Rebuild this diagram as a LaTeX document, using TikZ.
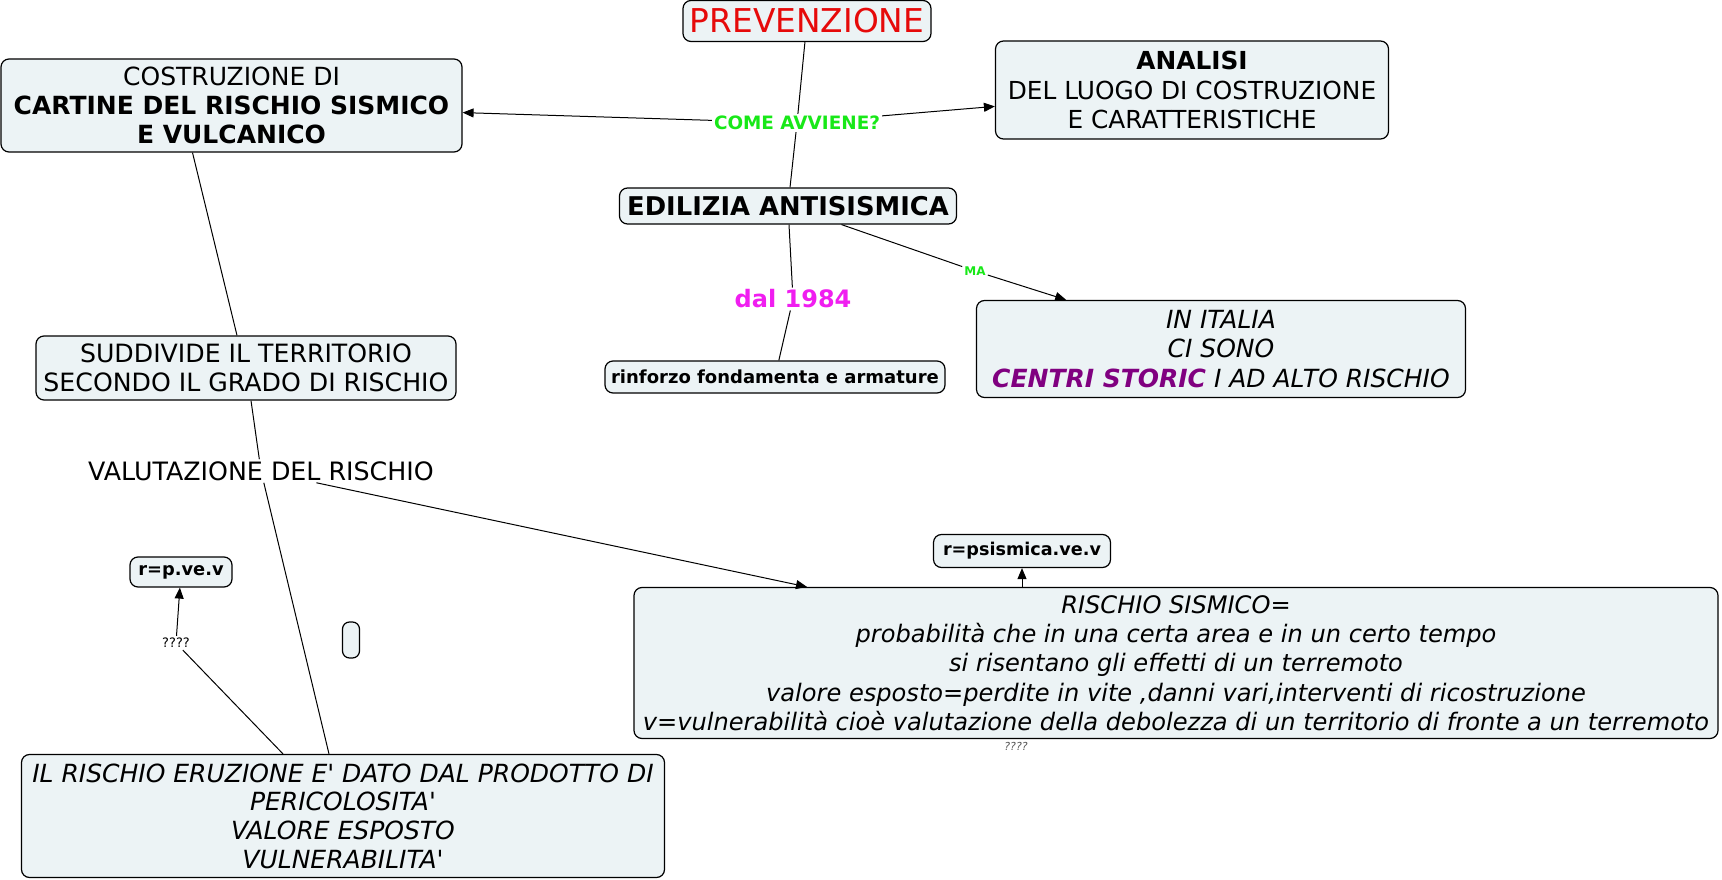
\documentclass[tikz,border=0pt]{standalone}
\usepackage{fontspec}
\setmainfont{DejaVu Sans}
\newfontfamily\mainf{DejaVu Sans}
\usetikzlibrary{arrows.meta}
\definecolor{boxfill}{RGB}{236,243,245}
\definecolor{lgreen}{RGB}{24,232,24}
\definecolor{mag}{RGB}{240,30,240}
\definecolor{purp}{RGB}{128,0,128}
\definecolor{pred}{RGB}{230,10,10}
\newcommand{\fsz}[2]{\fontsize{#1}{#2}\selectfont}
\tikzset{
  box/.style={draw=black, line width=1.2pt, fill=boxfill, rounded corners=8pt, align=center, inner sep=0pt},
  lbl/.style={align=center, inner sep=2pt},
  arr/.style={-{Triangle[length=11pt,width=9pt]}},
  conn/.style={line width=1pt},
}
\begin{document}
\begin{tikzpicture}[x=1pt,y=-1pt]
\mainf
\useasboundingbox (0,0) rectangle (1722,880);
% boxes
\node[box, minimum width=248pt, minimum height=41pt, font=\mainf\fsz{32.8}{38}, text=pred] (prev) at (807,21) {PREVENZIONE};
\node[box, minimum width=393pt, minimum height=98pt, font=\mainf\fsz{24.8}{29.5}] (analisi) at (1192,90) {\textbf{ANALISI}\\DEL LUOGO DI COSTRUZIONE\\E CARATTERISTICHE};
\node[box, minimum width=461pt, minimum height=93pt, font=\mainf\fsz{25}{29.3}] (cartine) at (231.5,105.5) {COSTRUZIONE DI\\\textbf{CARTINE DEL RISCHIO SISMICO}\\\textbf{E VULCANICO}};
\node[box, minimum width=337pt, minimum height=36pt, font=\mainf\fsz{25.8}{30}\bfseries] (edil) at (788,206) {EDILIZIA ANTISISMICA};
\node[box, minimum width=340pt, minimum height=32pt, font=\mainf\fsz{18}{21}\bfseries] (rinforzo) at (775,377) {rinforzo fondamenta e armature};
\node[box, minimum width=489pt, minimum height=97pt, font=\mainf\fsz{25}{29.5}\itshape] (initalia) at (1221,349) {IN ITALIA\\CI SONO\\{\bfseries\color{purp}CENTRI STORIC} I AD ALTO RISCHIO};
\node[box, minimum width=420pt, minimum height=64pt, font=\mainf\fsz{25.2}{29.5}] (suddivide) at (246,368) {SUDDIVIDE IL TERRITORIO\\SECONDO IL GRADO DI RISCHIO};
\node[box, minimum width=177pt, minimum height=33pt, font=\mainf\fsz{17.6}{20}\bfseries] (rps) at (1022,551) {r=psismica.ve.v};
\node[box, minimum width=102pt, minimum height=30pt, font=\mainf\fsz{17.8}{20}\bfseries] (rpv) at (181,572) {r=p.ve.v};
\node[box, minimum width=17pt, minimum height=36pt, rounded corners=7pt] (empty) at (351,640) {};
\node[lbl, text=gray!70!black, inner sep=0pt, font=\mainf\fsz{11}{13}\itshape] (q2) at (1016,746) {????};
\node[box, minimum width=1084pt, minimum height=151pt, font=\mainf\fsz{24.1}{29.3}\itshape] (sismico) at (1176,663) {RISCHIO SISMICO=\\probabilità che in una certa area e in un certo tempo\\si risentano gli effetti di un terremoto\\valore esposto=perdite in vite ,danni vari,interventi di ricostruzione\\v=vulnerabilità cioè valutazione della debolezza di un territorio di fronte a un terremoto};
\node[box, minimum width=643pt, minimum height=123pt, font=\mainf\fsz{25}{28.6}\itshape] (eruzione) at (343,816) {IL RISCHIO ERUZIONE E' DATO DAL PRODOTTO DI\\PERICOLOSITA'\\VALORE ESPOSTO\\VULNERABILITA'};
% labels
\node[lbl, font=\mainf\fsz{18.4}{21}\bfseries, text=lgreen] (come) at (797,123) {COME AVVIENE?};
\node[lbl, font=\mainf\fsz{12}{14}\bfseries, text=lgreen] (ma) at (975,271) {MA};
\node[lbl, font=\mainf\fsz{24}{29}\bfseries, text=mag] (dal) at (793,299) {dal 1984};
\node[lbl, font=\mainf\fsz{25.3}{29}] (valut) at (261,471) {VALUTAZIONE DEL RISCHIO};
\node[lbl, font=\mainf\fsz{13}{15}] (q1) at (176,643) {????};
% connectors
\draw[conn] (prev) -- (come);
\draw[conn,arr] (come) -- (cartine);
\draw[conn,arr] (come) -- (analisi);
\draw[conn] (come) -- (edil);
\draw[conn] (edil) -- (dal);
\draw[conn] (dal) -- (rinforzo);
\draw[conn] (edil) -- (ma);
\draw[conn,arr] (ma) -- (initalia);
\draw[conn] ([xshift=-39pt]cartine.south) -- ([xshift=-9pt]suddivide.north);
\draw[conn] ([xshift=5pt]suddivide.south) -- (valut);
\draw[conn] (valut) -- ([xshift=-14pt]eruzione.north);
\draw[conn,arr] (valut) -- ([xshift=-369pt]sismico.north);
\draw[conn] ([xshift=-60pt]eruzione.north) -- (q1);
\draw[conn,arr] (q1) -- (rpv);
\draw[conn,arr] (sismico.north -| rps.south) -- (rps.south);
\end{tikzpicture}
\end{document}
